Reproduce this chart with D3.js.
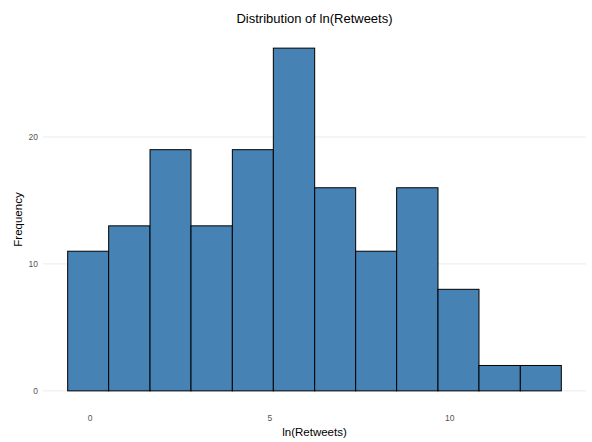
<!DOCTYPE html>
<html>
<head>
<meta charset="utf-8">
<script src="https://cdn.jsdelivr.net/npm/d3@7"></script>
<style>
  html, body { margin: 0; padding: 0; background: #ffffff; }
  svg { display: block; font-family: "Liberation Sans", Arial, Helvetica, sans-serif; }
</style>
</head>
<body>
<svg id="chart" width="592" height="442"></svg>
<script>
// ---- data ----
const binEdges = [-0.61, 0.53, 1.68, 2.82, 3.97, 5.11, 6.26, 7.40, 8.54, 9.69, 10.83, 11.98, 13.12];
const counts = [11, 13, 19, 13, 19, 27, 16, 11, 16, 8, 2, 2];
const xTicks = [0, 5, 10];
const yTicks = [0, 10, 20];
const titleText = "Distribution of ln(Retweets)";
const xLabel = "ln(Retweets)";
const yLabel = "Frequency";

const bins = counts.map((c, i) => ({ x0: binEdges[i], x1: binEdges[i + 1], count: c }));

// ---- layout ----
const W = 592, H = 442;
const panel = { left: 43, right: 586, top: 31, bottom: 408 };

const xMin = d3.min(binEdges), xMax = d3.max(binEdges);
const xPad = (xMax - xMin) * 0.05;
const x = d3.scaleLinear().domain([xMin - xPad, xMax + xPad]).range([panel.left, panel.right]);

const yMax = d3.max(counts);
const yPad = yMax * 0.05;
const y = d3.scaleLinear().domain([-yPad, yMax + yPad]).range([panel.bottom, panel.top]);

const svg = d3.select("#chart");

// grid lines (horizontal only)
svg.append("g")
  .selectAll("line")
  .data(yTicks)
  .join("line")
  .attr("x1", panel.left).attr("x2", panel.right)
  .attr("y1", d => y(d)).attr("y2", d => y(d))
  .attr("stroke", "#ebebeb").attr("stroke-width", 1);

// bars
svg.append("g")
  .selectAll("rect")
  .data(bins)
  .join("rect")
  .attr("x", d => x(d.x0))
  .attr("width", d => x(d.x1) - x(d.x0))
  .attr("y", d => y(d.count))
  .attr("height", d => y(0) - y(d.count))
  .attr("fill", "#4682B4")
  .attr("stroke", "#000000")
  .attr("stroke-width", 1);

// y axis tick labels
const yAxis = d3.axisLeft(y).tickValues(yTicks).tickSize(0).tickPadding(0);
const gy = svg.append("g").attr("transform", `translate(${panel.left - 5},0)`).call(yAxis);
gy.select(".domain").remove();
gy.selectAll("text").attr("fill", "#555555").style("font-size", "8.5px")
  .style("font-family", "'Liberation Sans', Arial, sans-serif");

// x axis tick labels
const xAxis = d3.axisBottom(x).tickValues(xTicks).tickSize(0).tickPadding(0);
const gx = svg.append("g").attr("transform", `translate(0,${panel.bottom + 7})`).call(xAxis);
gx.select(".domain").remove();
gx.selectAll("text").attr("fill", "#555555").style("font-size", "8.5px")
  .style("font-family", "'Liberation Sans', Arial, sans-serif");

// title
svg.append("text")
  .attr("x", (panel.left + panel.right) / 2).attr("y", 23)
  .attr("text-anchor", "middle")
  .attr("fill", "#000").style("font-size", "13px")
  .text(titleText);

// x label
svg.append("text")
  .attr("x", (panel.left + panel.right) / 2).attr("y", 436)
  .attr("text-anchor", "middle")
  .attr("fill", "#000").style("font-size", "11.5px")
  .text(xLabel);

// y label
svg.append("text")
  .attr("transform", `translate(22,${(panel.top + panel.bottom) / 2}) rotate(-90)`)
  .attr("text-anchor", "middle")
  .attr("fill", "#000").style("font-size", "11.5px")
  .text(yLabel);
</script>
</body>
</html>
